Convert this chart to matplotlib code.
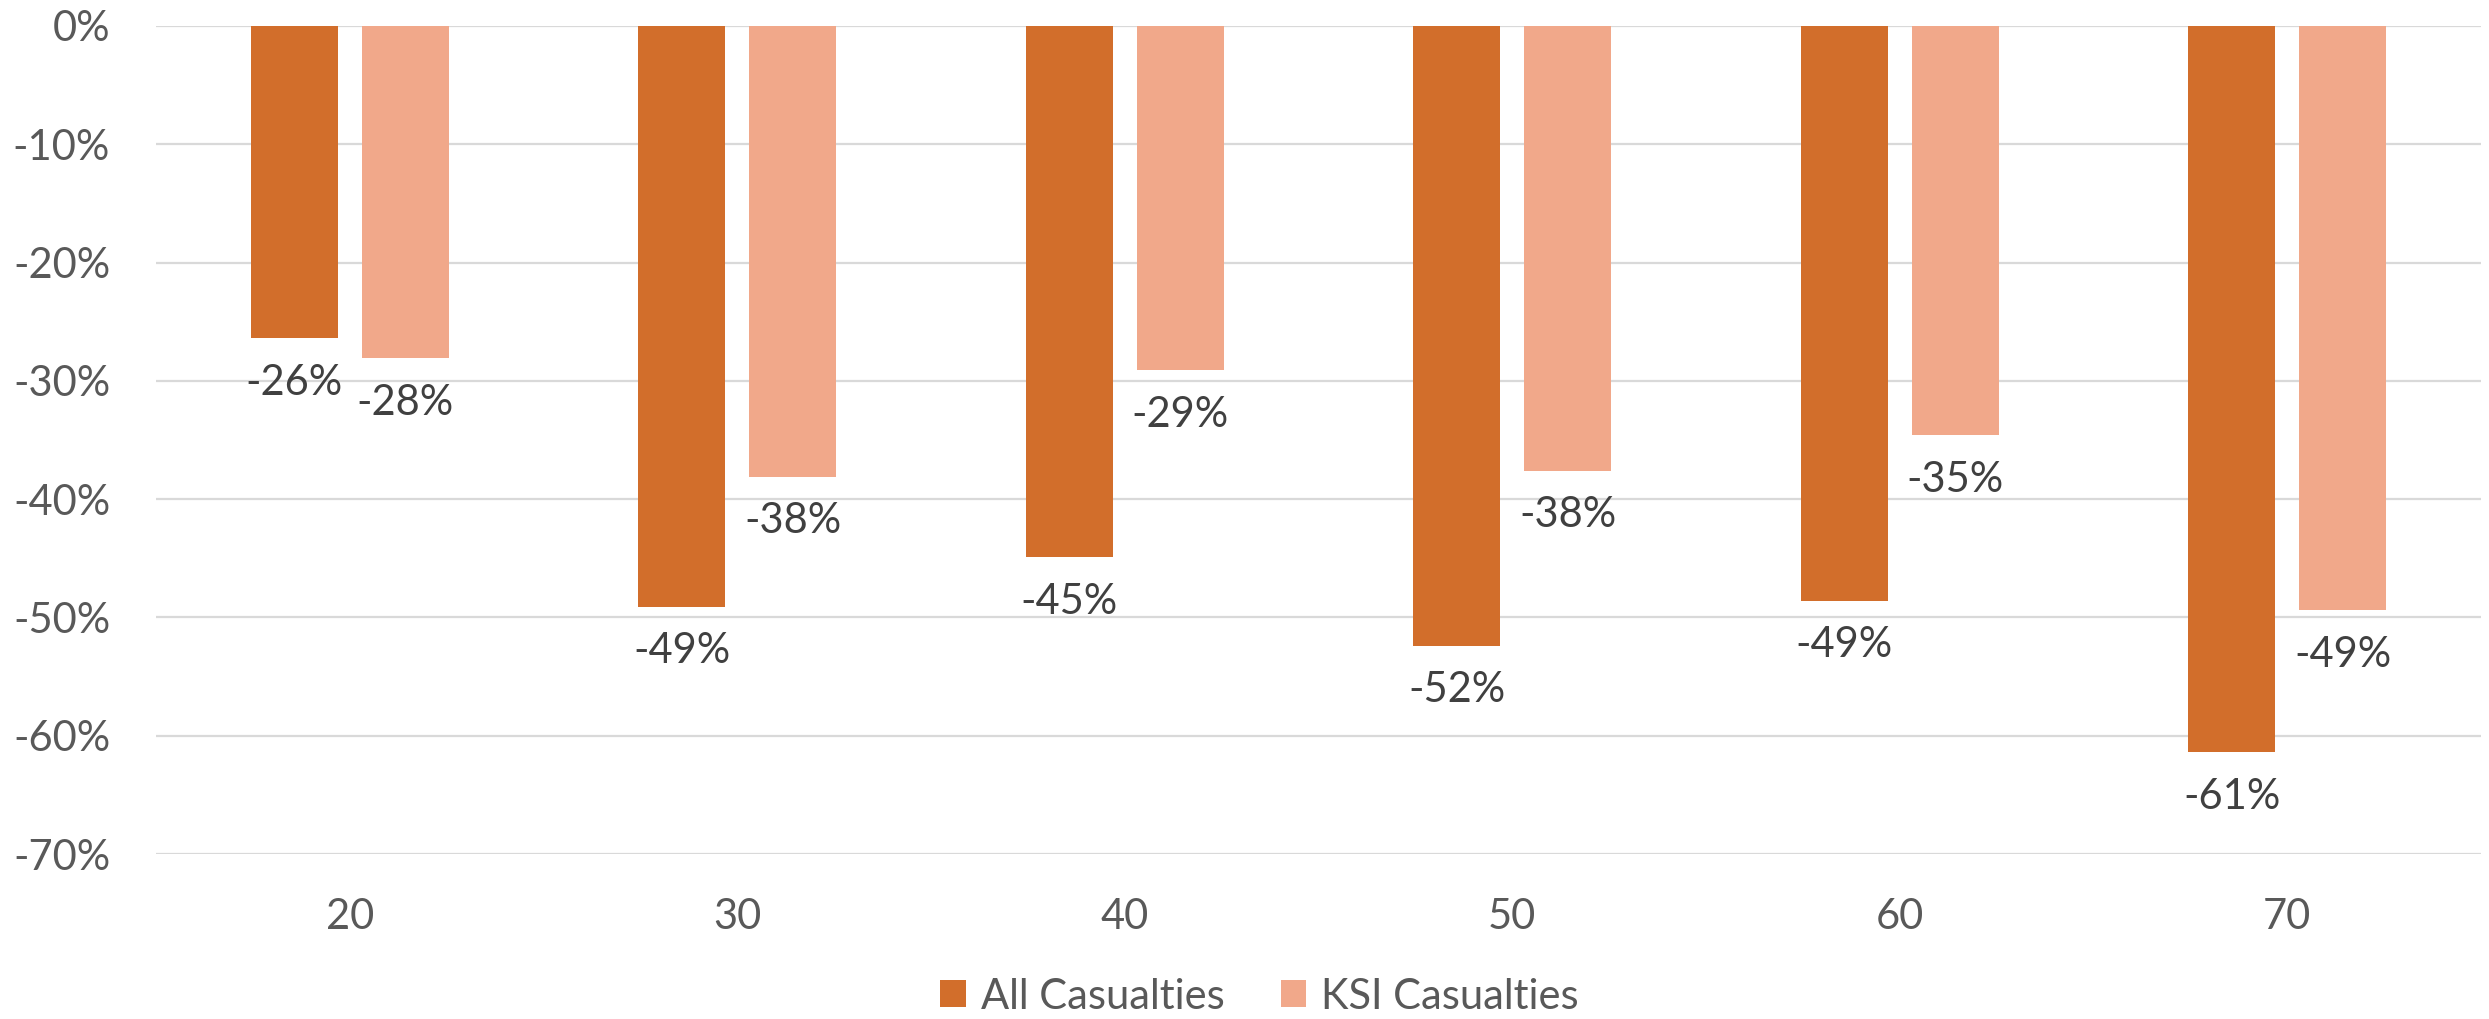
import matplotlib
matplotlib.use("Agg")
import matplotlib.pyplot as plt
import numpy as np
from matplotlib.patches import Patch
from matplotlib.ticker import FuncFormatter, MultipleLocator

# speed limit groups and change in casualties (%)
speed_limits = ["20", "30", "40", "50", "60", "70"]
all_casualties = [-26.4, -49.1, -44.9, -52.4, -48.6, -61.4]
ksi_casualties = [-28.1, -38.1, -29.1, -37.6, -34.6, -49.4]
series_names = ["All Casualties", "KSI Casualties"]

DARK = "#D26E2B"
LIGHT = "#F1A88A"
GRID = "#D9D9D9"
TICK_TXT = "#595959"
LABEL_TXT = "#404040"
FONT = "Lato"
FS = 30

plt.rcParams["font.family"] = [FONT, "DejaVu Sans"]

fig = plt.figure(figsize=(24.89, 10.19), dpi=100)
ax = fig.add_axes([0.0627, 0.1619, 0.9341, 0.8126])

x = np.arange(len(speed_limits))
width = 0.2245
off = 0.143

bars_all = ax.bar(x - off, all_casualties, width, color=DARK, zorder=3)
bars_ksi = ax.bar(x + off, ksi_casualties, width, color=LIGHT, zorder=3)

# value labels just below each bar end
for bars, vals in ((bars_all, all_casualties), (bars_ksi, ksi_casualties)):
    for b, v in zip(bars, vals):
        ax.annotate(f"{round(v):d}%", (b.get_x() + b.get_width() / 2, v),
                    xytext=(0, -32), textcoords="offset points",
                    ha="center", va="center", fontsize=FS, color=LABEL_TXT)

ax.set_xlim(-0.5, len(speed_limits) - 0.5)
ax.set_ylim(-70, 0)
ax.yaxis.set_major_locator(MultipleLocator(10))
ax.yaxis.set_major_formatter(FuncFormatter(lambda v, _: f"{v:.0f}%"))
ax.set_xticks(x)
ax.set_xticklabels(speed_limits)

ax.grid(axis="y", color=GRID, lw=1.6, zorder=0)
ax.set_axisbelow(True)
for s in ax.spines.values():
    s.set_visible(False)
ax.tick_params(axis="both", length=0, labelsize=FS, labelcolor=TICK_TXT)
ax.tick_params(axis="y", pad=33)
ax.tick_params(axis="x", pad=32)

handles = [Patch(facecolor=DARK), Patch(facecolor=LIGHT)]
fig.legend(handles, series_names, loc="center", bbox_to_anchor=(0.506, 0.022),
           ncol=2, frameon=False, fontsize=FS, labelcolor=TICK_TXT,
           handlelength=0.62, handleheight=0.62, handletextpad=0.35,
           columnspacing=1.35, borderpad=0)

fig.savefig("out.png", dpi=100)
